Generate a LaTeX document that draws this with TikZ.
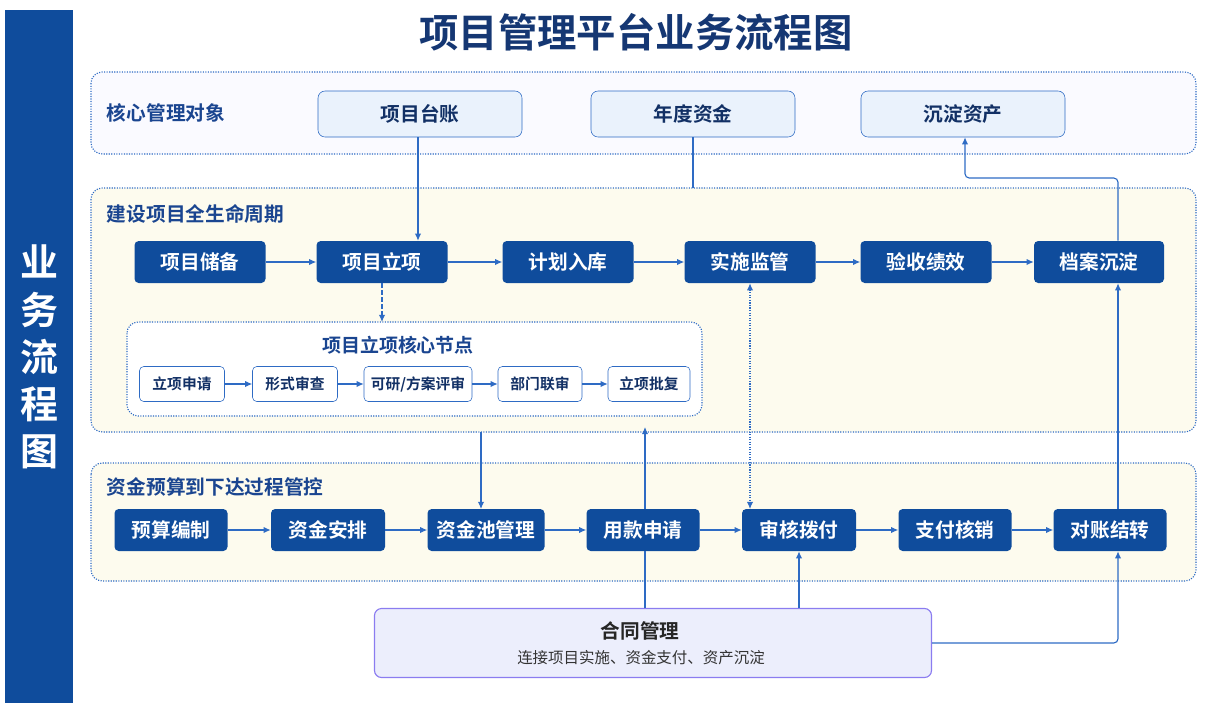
\documentclass[tikz,border=0pt]{standalone}
\usepackage{fontspec}
\setmainfont{Noto Sans CJK SC}[BoldFont={Noto Sans CJK SC Bold}]
\usetikzlibrary{arrows.meta}
\definecolor{navy}{HTML}{0F4C9C}
\definecolor{ink}{HTML}{1A4590}
\definecolor{edge}{HTML}{2E6BC4}
\definecolor{cream}{HTML}{FDFBEE}
\definecolor{pale}{HTML}{EAF2FC}
\definecolor{lilac}{HTML}{ECEEFC}
\definecolor{violet}{HTML}{8B7CF0}

\begin{document}
\begin{tikzpicture}[x=0.025cm, y=-0.025cm,
  panel/.style={draw=edge, densely dotted, line width=0.8pt, rounded corners=8pt},
  stage/.style={fill=navy, text=white, rounded corners=3pt, inner sep=0pt, minimum height=42*0.025cm, font=\fontsize{14}{16}\selectfont\bfseries},
  obj/.style={fill=pale, draw=edge, rounded corners=5pt, inner sep=0pt, minimum width=204*0.025cm, minimum height=46*0.025cm, font=\fontsize{14}{16}\selectfont\bfseries, text=ink!70!black},
  sub/.style={fill=white, draw=edge, rounded corners=3pt, inner sep=0pt, minimum height=35*0.025cm, font=\fontsize{10.5}{12}\selectfont\bfseries, text=ink!70!black},
  lbl/.style={anchor=west, text=ink, font=\fontsize{14}{16}\selectfont\bfseries},
  link/.style={draw=edge, line width=0.8pt, -{Latex[length=5pt,width=4.5pt]}}]
\useasboundingbox (0,0) rectangle (1209,713);
\fill [navy] (5,10) rectangle (73,703);
\node [text=white, align=center, font=\fontsize{27}{33.5}\selectfont\bfseries] (side) at (39,357) {业\\务\\流\\程\\图};
\node [text=ink!80!black, font=\fontsize{28}{32}\selectfont\bfseries] (title) at (636,32) {项目管理平台业务流程图};
% panels
\draw [panel, fill=blue!2] (91,72) rectangle (1196,154);
\draw [panel, fill=cream] (91,188) rectangle (1196,432);
\draw [panel, fill=white] (127,322) rectangle (702,416);
\draw [panel, fill=cream] (91,463) rectangle (1196,581);
\node [lbl] (l1) at (102,113) {核心管理对象};
\node [lbl] (l2) at (102,214) {建设项目全生命周期};
\node [lbl] (l3) at (102,487) {资金预算到下达过程管控};
\node [text=ink, font=\fontsize{13.5}{15}\selectfont\bfseries] (l4) at (398,345) {项目立项核心节点};
% core objects
\node [obj] (ledger) at (420,114) {项目台账};
\node [obj] (fund) at (693,114) {年度资金};
\node [obj] (asset) at (963,114) {沉淀资产};
% lifecycle
\node [stage, minimum width=131*0.025cm] (p1) at (200,262) {项目储备};
\node [stage, minimum width=131*0.025cm] (p2) at (382,262) {项目立项};
\node [stage, minimum width=131*0.025cm] (p3) at (568,262) {计划入库};
\node [stage, minimum width=131*0.025cm] (p4) at (750,262) {实施监管};
\node [stage, minimum width=131*0.025cm] (p5) at (926,262) {验收绩效};
\node [stage, minimum width=130*0.025cm] (p6) at (1099,262) {档案沉淀};
\foreach \a/\b in {p1/p2,p2/p3,p3/p4,p4/p5,p5/p6} \draw [link] (\a) -- (\b);
% approval nodes
\node [sub, minimum width=85*0.025cm] (s1) at (182,384) {立项申请};
\node [sub, minimum width=85*0.025cm] (s2) at (295,384) {形式审查};
\node [sub, minimum width=108*0.025cm] (s3) at (418,384) {可研/方案评审};
\node [sub, minimum width=84*0.025cm] (s4) at (540,384) {部门联审};
\node [sub, minimum width=82*0.025cm] (s5) at (649,384) {立项批复};
\foreach \a/\b in {s1/s2,s2/s3,s3/s4,s4/s5} \draw [link] (\a) -- (\b);
% funds
\node [stage, minimum width=113*0.025cm] (f1) at (171,530) {预算编制};
\node [stage, minimum width=114*0.025cm] (f2) at (328,530) {资金安排};
\node [stage, minimum width=117*0.025cm] (f3) at (486,530) {资金池管理};
\node [stage, minimum width=113*0.025cm] (f4) at (643,530) {用款申请};
\node [stage, minimum width=114*0.025cm] (f5) at (799,530) {审核拨付};
\node [stage, minimum width=113*0.025cm] (f6) at (955,530) {支付核销};
\node [stage, minimum width=113*0.025cm] (f7) at (1110,530) {对账结转};
\foreach \a/\b in {f1/f2,f2/f3,f3/f4,f4/f5,f5/f6,f6/f7} \draw [link] (\a) -- (\b);
% contract
\node [fill=lilac, draw=violet, line width=0.8pt, rounded corners=5pt, minimum width=557*0.025cm, minimum height=69*0.025cm] (deal) at (653,643) {};
\node [text=black!85, font=\fontsize{14}{16}\selectfont\bfseries] (dealt) at (640,631) {合同管理};
\node [text=black!80, font=\fontsize{11}{13}\selectfont] (deals) at (641,658) {连接项目实施、资金支付、资产沉淀};
% cross links
\coordinate (c1) at (693,188);
\coordinate (c2) at (481,432);
\coordinate (c3) at (645,427);
\coordinate (c5) at (965,178);
\draw [link] (ledger.south -| 418,0) -- (p2.north -| 418,0);
\draw [draw=edge, line width=0.8pt] (fund) -- (c1);
\draw [link, densely dashed] (p2.south) -- (382,322);
\draw [link, {Latex[length=5pt,width=4.5pt]}-{Latex[length=5pt,width=4.5pt]}, densely dotted] (p4) -- (750,509);
\draw [link] (c2) -- (481,509);
\draw [draw=edge, line width=0.8pt] (645,608) -- (645,551);
\draw [link] (645,509) -- (c3);
\draw [link] (799,608) -- (f5);
\draw [link, rounded corners=3pt] (deal.east) -| (f7.south -| 1118,0);
\draw [link] (f7.north -| 1118,0) -- (p6.south -| 1118,0);
\draw [link, rounded corners=3pt] (p6.north -| 1118,0) |- (c5) -- (asset.south -| 965,0);
\end{tikzpicture}
\end{document}
